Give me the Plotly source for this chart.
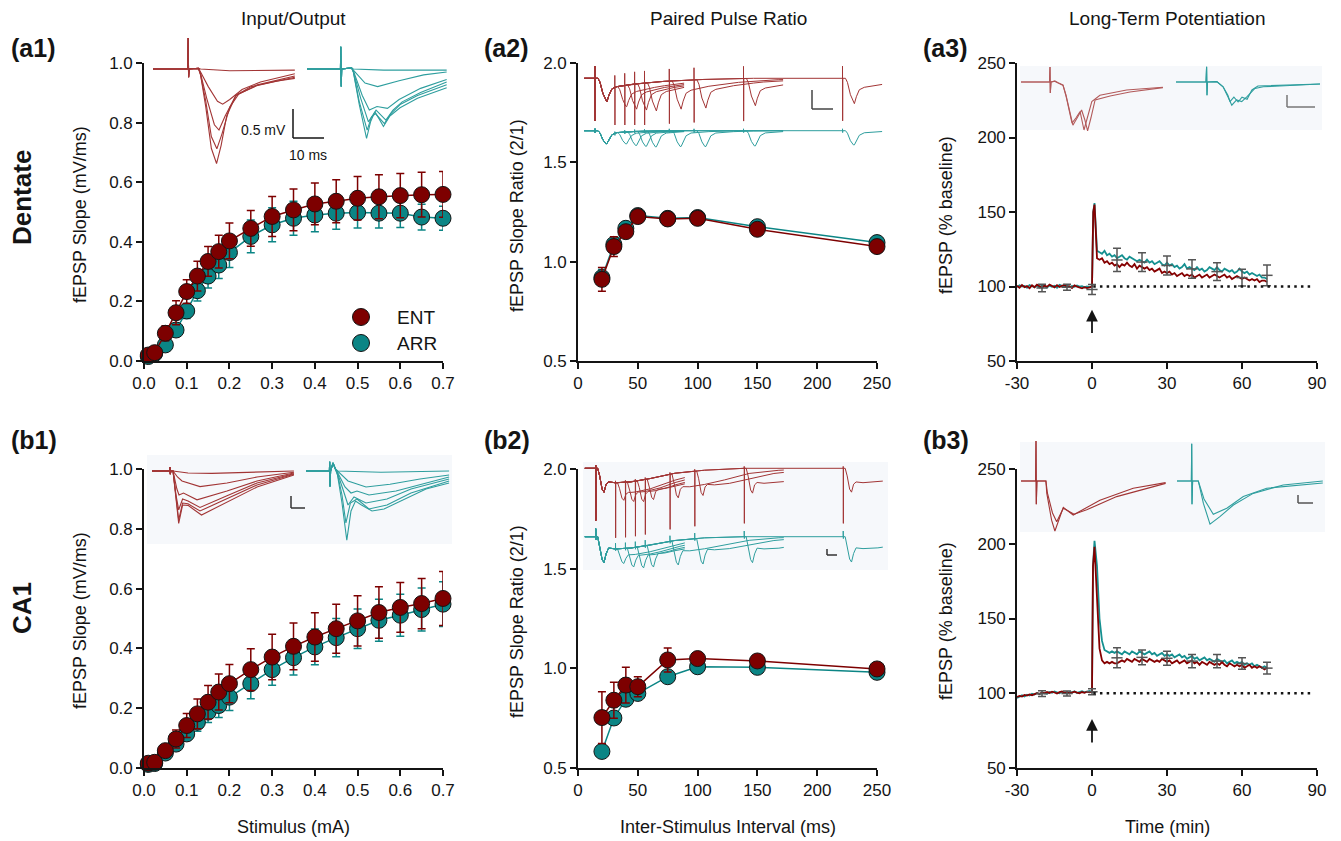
import numpy as np
import plotly.graph_objects as go

W, H = 1341, 841
OFF = 8                      # page body margin: figure starts at (8, 8)
FW, FH = W - OFF, H - OFF    # figure size so that it fits the window
FONT = "Liberation Sans, Arial, Helvetica, sans-serif"

# ------------------------------------------------------------------ data
IO_STIM = [0.01, 0.025, 0.05, 0.075, 0.1, 0.125, 0.15, 0.175, 0.2, 0.25,
           0.3, 0.35, 0.4, 0.45, 0.5, 0.55, 0.6, 0.65, 0.7]
IO_TICKS = [0.0, 0.1, 0.2, 0.3, 0.4, 0.5, 0.6, 0.7]
IO_YTICKS = [0.0, 0.2, 0.4, 0.6, 0.8, 1.0]

DG_IO_ENT = [0.020, 0.028, 0.093, 0.162, 0.233, 0.285, 0.334, 0.367, 0.403, 0.445,
             0.485, 0.507, 0.527, 0.536, 0.546, 0.551, 0.555, 0.558, 0.559]
DG_IO_ENT_ERR = [0.005, 0.008, 0.025, 0.040, 0.040, 0.050, 0.050, 0.055, 0.060, 0.060,
                 0.067, 0.070, 0.070, 0.072, 0.073, 0.074, 0.074, 0.075, 0.077]
DG_IO_ARR = [0.015, 0.025, 0.054, 0.104, 0.168, 0.236, 0.285, 0.322, 0.364, 0.418,
             0.457, 0.479, 0.490, 0.496, 0.498, 0.496, 0.496, 0.483, 0.479]
DG_IO_ARR_ERR = [0.005, 0.008, 0.015, 0.020, 0.025, 0.035, 0.040, 0.045, 0.050, 0.055,
                 0.057, 0.057, 0.056, 0.054, 0.052, 0.050, 0.048, 0.043, 0.040]

CA1_IO_ENT = [0.016, 0.019, 0.058, 0.097, 0.142, 0.181, 0.220, 0.254, 0.282, 0.329,
              0.371, 0.407, 0.438, 0.466, 0.492, 0.520, 0.537, 0.550, 0.567]
CA1_IO_ENT_ERR = [0.005, 0.008, 0.020, 0.030, 0.040, 0.050, 0.056, 0.060, 0.064, 0.070,
                  0.076, 0.078, 0.081, 0.082, 0.084, 0.086, 0.083, 0.084, 0.090]
CA1_IO_ARR = [0.012, 0.015, 0.050, 0.080, 0.114, 0.153, 0.187, 0.209, 0.237, 0.282,
              0.329, 0.369, 0.405, 0.436, 0.466, 0.494, 0.511, 0.530, 0.548]
CA1_IO_ARR_ERR = [0.004, 0.006, 0.012, 0.018, 0.022, 0.030, 0.035, 0.040, 0.045, 0.050,
                  0.052, 0.058, 0.060, 0.064, 0.066, 0.070, 0.070, 0.072, 0.075]

ISI = [20, 30, 40, 50, 75, 100, 150, 250]
ISI_TICKS = [0, 50, 100, 150, 200, 250]
PPR_YTICKS = [0.5, 1.0, 1.5, 2.0]
DG_PPR_ENT = [0.911, 1.076, 1.151, 1.227, 1.215, 1.218, 1.163, 1.076]
DG_PPR_ENT_ERR = [0.060, 0.050, 0.025, 0.020, 0.015, 0.015, 0.015, 0.015]
DG_PPR_ARR = [0.920, 1.087, 1.168, 1.232, 1.218, 1.222, 1.176, 1.096]
DG_PPR_ARR_ERR = [0.040, 0.030, 0.020, 0.015, 0.015, 0.015, 0.015, 0.015]
CA1_PPR_ENT = [0.753, 0.840, 0.916, 0.908, 1.042, 1.049, 1.037, 0.997]
CA1_PPR_ENT_ERR = [0.130, 0.090, 0.090, 0.050, 0.060, 0.020, 0.015, 0.015]
CA1_PPR_ARR = [0.583, 0.751, 0.845, 0.874, 0.958, 1.008, 1.005, 0.980]
CA1_PPR_ARR_ERR = [0.030, 0.030, 0.030, 0.025, 0.020, 0.020, 0.015, 0.015]

LTP_TICKS = [-30, 0, 30, 60, 90]
LTP_TICKTEXT = ["-30", "0", "30", "60", "90"]
LTP_YTICKS = [50, 100, 150, 200, 250]
BASELINE_PCT = 100
LTP_BASE_T = list(range(-30, 0))

DG_LTP_ENT_BASE = [100.5, 99.2, 101.0, 99.6, 100.3, 98.9, 100.8, 99.5, 101.2, 100.0,
                   99.1, 100.6, 99.8, 101.3, 100.2, 99.4, 100.9, 99.7, 100.4, 101.1,
                   99.6, 100.2, 99.0, 100.7, 99.9, 99.3, 98.8, 99.5, 98.9, 99.4]
DG_LTP_ARR_BASE = [99.6, 100.8, 99.9, 100.4, 99.1, 101.0, 100.2, 99.5, 100.7, 99.3,
                   100.9, 100.1, 99.4, 100.6, 99.8, 100.5, 99.2, 101.1, 100.3, 99.7,
                   100.9, 99.5, 100.4, 99.8, 100.6, 99.9, 100.2, 99.4, 100.1, 99.6]
DG_LTP_SPIKE_T = [0, 0.5, 1, 1.5, 2]
DG_LTP_ENT_SPIKE = [100, 150, 155, 138, 119]
DG_LTP_ARR_SPIKE = [100, 150, 156, 140, 124]
DG_LTP_POST_T = list(range(3, 71))
DG_LTP_ENT_POST = [118, 119, 116, 117, 115, 116, 114, 115, 113, 115,
                   114, 116, 114, 113, 115, 112, 114, 113, 112, 113,
                   111, 112, 110, 111, 112, 109, 110, 109, 110, 108,
                   109, 107, 108, 109, 107, 108, 107, 108, 106, 107,
                   108, 106, 107, 108, 106, 107, 108, 107, 106, 107,
                   108, 106, 107, 105, 106, 107, 106, 105, 106, 105,
                   104, 105, 104, 105, 103, 104, 104, 103]
DG_LTP_ARR_POST = [123, 122, 124, 121, 122, 120, 121, 119, 120, 121,
                   119, 118, 120, 119, 118, 117, 118, 117, 116, 118,
                   116, 117, 115, 116, 117, 115, 114, 116, 114, 115,
                   113, 114, 112, 113, 115, 112, 113, 112, 111, 113,
                   111, 112, 110, 111, 113, 112, 111, 113, 111, 110,
                   112, 111, 110, 111, 109, 110, 112, 110, 109, 110,
                   108, 109, 108, 107, 108, 106, 106, 105]

CA1_LTP_ENT_BASE = [97.5, 98.2, 97.8, 98.9, 98.4, 99.2, 98.7, 99.5, 100.1, 99.6,
                    100.4, 99.9, 100.8, 100.2, 101.0, 100.5, 99.8, 100.7, 101.2, 100.3,
                    100.9, 99.9, 100.6, 101.1, 100.4, 100.0, 100.8, 100.3, 101.0, 100.6]
CA1_LTP_ARR_BASE = [96.8, 98.0, 98.6, 97.9, 99.0, 98.5, 99.6, 99.1, 100.2, 99.4,
                    100.5, 100.1, 99.7, 100.9, 100.3, 101.2, 100.6, 100.0, 101.0, 100.4,
                    99.8, 100.9, 100.5, 101.3, 100.2, 100.8, 101.4, 100.6, 101.0, 101.5]
CA1_LTP_SPIKE_T = [0, 0.4, 1, 2, 3, 4, 5]
CA1_LTP_ENT_SPIKE = [101, 185, 198, 165, 130, 122, 120]
CA1_LTP_ARR_SPIKE = [101, 185, 202, 185, 150, 135, 129]
CA1_LTP_POST_T = list(range(6, 71))
CA1_LTP_ENT_POST = [121, 120, 121, 120, 120, 121, 122, 121, 123, 122,
                    121, 123, 122, 121, 123, 122, 121, 123, 122, 121,
                    122, 121, 123, 122, 121, 122, 120, 121, 122, 120,
                    121, 122, 120, 121, 122, 120, 121, 119, 121, 120,
                    119, 121, 120, 119, 120, 119, 121, 119, 118, 120,
                    119, 118, 119, 118, 119, 117, 118, 119, 117, 118,
                    117, 118, 117, 116, 117]
CA1_LTP_ARR_POST = [128, 127, 128, 127, 128, 127, 126, 128, 127, 126,
                    128, 127, 126, 128, 127, 126, 127, 128, 126, 127,
                    125, 126, 127, 125, 126, 125, 126, 124, 125, 126,
                    124, 125, 123, 124, 125, 123, 124, 122, 123, 124,
                    122, 123, 122, 121, 123, 122, 121, 122, 120, 121,
                    122, 120, 121, 120, 121, 119, 120, 119, 120, 118,
                    119, 118, 117, 118, 117]

LTP_ERR_T = [-20, -10, 0, 10, 20, 30, 40, 50, 60, 70]
DG_LTP_MEAN = [99.0, 99.5, 98.0, 117.8, 116.4, 114.1, 111.8, 110.0, 106.0, 107.5]
DG_LTP_SEM = [2.5, 2.0, 3.3, 7.8, 6.3, 6.3, 6.2, 6.0, 5.6, 7.0]
CA1_LTP_MEAN = [99.7, 99.8, 101.0, 123.7, 124.0, 123.4, 121.5, 121.5, 119.9, 116.8]
CA1_LTP_SEM = [1.9, 1.7, 2.0, 6.7, 5.0, 4.7, 4.5, 4.5, 3.9, 3.9]

# ---- example sweeps (ms, mV)
A1_ENT_ART = [(0, 0), (11.3, 0), (11.45, 0.53), (11.6, -0.14), (11.8, 0), (14.8, 0.01)]
A1_ENT_SWEEPS = [
    [(15.5, -0.10), (17.2, -0.65), (19.0, -1.35), (20.7, -1.61), (22.2, -1.30), (24, -0.80), (27, -0.45), (32, -0.30), (40, -0.21), (46.2, -0.16)],
    [(15.5, -0.10), (17.2, -0.55), (19.0, -1.15), (20.8, -1.36), (22.5, -1.10), (25, -0.65), (28, -0.42), (34, -0.28), (46.2, -0.14)],
    [(15.5, -0.08), (17.5, -0.50), (20.0, -0.95), (21.5, -1.04), (23.5, -0.80), (27, -0.45), (34, -0.27), (46.2, -0.12)],
    [(15.5, -0.05), (18.0, -0.30), (21.0, -0.55), (22.7, -0.60), (25, -0.52), (29, -0.35), (35, -0.22), (46.2, -0.08)],
    [(15.5, 0.0), (25, -0.03), (46.2, -0.02)],
]
A1_ARR_ART = [(0, 0), (10.9, 0), (11.0, 0.38), (11.15, -0.30), (11.3, 0), (14.5, 0.02)]
A1_ARR_SWEEPS = [
    [(15.1, -0.05), (17, -0.6), (19.4, -1.18), (20.7, -0.9), (22.1, -0.73), (23.5, -0.85), (24.9, -0.98), (27, -0.8), (30.3, -0.66), (36, -0.5), (41, -0.4), (45.5, -0.32)],
    [(15.1, -0.05), (17, -0.55), (19.6, -1.04), (21, -0.82), (22.3, -0.76), (25.2, -0.93), (27.5, -0.75), (30.5, -0.6), (36, -0.45), (45.5, -0.27)],
    [(15.1, -0.04), (17.5, -0.5), (20, -0.9), (22.5, -0.7), (25.7, -0.87), (28, -0.7), (31, -0.56), (37, -0.4), (45.5, -0.22)],
    [(15.1, -0.03), (18, -0.45), (20.3, -0.7), (22.8, -0.64), (26.2, -0.67), (30, -0.52), (37, -0.33), (45.5, -0.18)],
    [(15.1, -0.02), (18.9, -0.24), (23, -0.30), (30, -0.2), (38, -0.1), (45.5, -0.05)],
    [(15.1, 0.0), (25, -0.02), (45.5, -0.02)],
]

PP_T = [0, 3, 5, 8, 11, 12, 14, 17, 22, 40, 70, 110, 160]
DG_PP_ENT_V = [0, 0, -0.10, -0.40, -0.60, -0.62, -0.45, -0.28, -0.22, -0.15, -0.08, -0.03, 0]
DG_PP_ARR_V = [0, 0, -0.06, -0.24, -0.34, -0.34, -0.24, -0.11, -0.05, -0.02, 0, 0, 0]
CA1_PP_T = [0, 2, 4, 6.5, 8.4, 10.5, 13, 20, 35, 55, 80, 110, 150]
CA1_PP_ENT_V = [0, 0, -0.20, -0.55, -0.63, -0.42, -0.36, -0.38, -0.36, -0.27, -0.13, -0.05, 0]
CA1_PP_ARR_V = [0, 0, -0.25, -0.60, -0.68, -0.45, -0.30, -0.32, -0.30, -0.22, -0.10, -0.03, 0]
PP_SWEEP_END = [90, 90, 90, 90, 190, 190, 190, 290]

A3_ENT_SWEEPS = [
    [(0, 0), (9.5, 0), (9.67, 0.375), (9.77, -0.275), (10, 0), (11.3, 0.02), (12.3, -0.02), (14, -0.08), (15, -0.35), (16.3, -0.82), (17, -1.03), (18.3, -0.9), (19.7, -0.74), (21, -1.2), (22.3, -0.82), (23.6, -0.49), (26.3, -0.33), (35.2, -0.2), (47.3, -0.13)],
    [(0, 0), (9.5, 0), (9.67, 0.375), (9.77, -0.275), (10, 0), (11.3, 0.02), (12.3, -0.02), (14, -0.08), (15, -0.33), (16.3, -0.78), (17.3, -1.08), (18.7, -0.9), (20.2, -0.7), (21.3, -0.95), (22.2, -1.22), (23.3, -0.9), (24.7, -0.45), (29.7, -0.35), (36.3, -0.25), (47.3, -0.14)],
]
A3_ARR_SWEEPS = [
    [(0, 0), (10, 0), (10.2, 0.38), (10.33, -0.33), (10.5, 0), (13.6, 0.01), (15.7, -0.12), (17.3, -0.37), (18.6, -0.58), (20.2, -0.45), (21.9, -0.49), (23.6, -0.37), (24.7, -0.28), (26.3, -0.16), (29.1, -0.12), (48, -0.05)],
    [(0, 0), (10, 0), (10.2, 0.38), (10.33, -0.33), (10.5, 0), (13.6, 0.01), (15.7, -0.12), (17.3, -0.33), (18, -0.49), (19.3, -0.38), (20.7, -0.5), (22, -0.38), (23.7, -0.43), (25.3, -0.2), (27.3, -0.1), (48, -0.05)],
]

B1_ENT_ART = [(0, 0), (5.9, 0), (6.0, 0.10), (6.1, -0.08), (6.3, 0), (7, 0)]
B1_ENT_SWEEPS = [
    [(12, -0.05), (20, -0.06), (35, -0.03), (47.3, 0)],
    [(8.5, -0.15), (10, -0.25), (16, -0.39), (25, -0.30), (35, -0.15), (47.3, -0.03)],
    [(8.3, -0.45), (9, -0.60), (10.5, -0.55), (15, -0.72), (25, -0.50), (35, -0.25), (47.3, -0.05)],
    [(8, -0.6), (8.9, -0.97), (10.2, -0.7), (12, -0.75), (16, -0.91), (25, -0.62), (35, -0.30), (47.3, -0.07)],
    [(8, -0.7), (8.9, -1.22), (10.2, -0.8), (12, -0.82), (16, -1.0), (25, -0.70), (35, -0.35), (47.3, -0.08)],
    [(8, -0.75), (8.9, -1.31), (10.2, -0.85), (12, -0.86), (16.5, -1.1), (25, -0.78), (35, -0.40), (47.3, -0.10)],
]
B1_ARR_ART = [(0, 0), (7.8, 0), (7.9, 0.23), (8.0, -0.39), (8.2, 0), (9, 0.2), (9.8, 0.05)]
B1_ARR_SWEEPS = [
    [(10.5, -0.1), (12, -0.8), (13.6, -1.73), (15, -1.0), (16.5, -0.75), (18.5, -0.85), (22, -1.0), (26, -0.95), (33, -0.7), (40, -0.45), (47.7, -0.3)],
    [(10.5, -0.08), (12, -0.6), (13.3, -1.3), (14.8, -0.8), (17, -0.7), (21, -0.95), (27, -0.85), (35, -0.55), (47.7, -0.25)],
    [(10.5, -0.05), (12.5, -0.5), (14, -0.85), (16, -0.65), (20, -0.8), (27, -0.7), (35, -0.45), (47.7, -0.2)],
    [(10.5, -0.03), (13, -0.4), (15, -0.55), (17, -0.5), (21, -0.6), (30, -0.5), (40, -0.3), (47.7, -0.15)],
    [(10.5, 0), (14, -0.25), (20, -0.4), (28, -0.33), (38, -0.2), (47.7, -0.1)],
    [(10.5, 0), (25, -0.03), (47.7, 0)],
]

B3_ENT_SWEEPS = [
    [(0, 0), (4.9, 0), (5.0, 1.0), (5.1, -0.58), (5.3, 0), (8.3, 0), (8.6, -0.31), (10.2, -0.98), (11.3, -1.25), (14.1, -0.66), (17.4, -0.85), (26.3, -0.48), (37.4, -0.18), (48.2, -0.04)],
    [(0, 0), (4.9, 0), (5.0, 1.0), (5.1, -0.58), (5.3, 0), (8.3, 0), (8.8, -0.3), (10.5, -0.8), (11.9, -1.02), (14.1, -0.68), (17.7, -0.83), (21.9, -0.72), (31.9, -0.39), (48.2, -0.06)],
]
B3_ARR_SWEEPS = [
    [(0, 0), (4.8, 0), (4.9, 0.93), (5.0, -0.58), (5.2, 0), (7.1, 0), (8.8, -0.56), (11, -1.08), (14.3, -0.89), (18.8, -0.6), (25.4, -0.31), (35.4, -0.1), (48.6, 0)],
    [(0, 0), (4.8, 0), (4.9, 0.93), (5.0, -0.58), (5.2, 0), (7.1, 0), (9, -0.45), (12.1, -0.83), (16.6, -0.68), (22.1, -0.39), (29.9, -0.18), (48.6, -0.05)],
]

# ------------------------------------------------------------------ style
ENT = "#7d0000"
ARR = "#0b8585"
ENT_TR = "#a23535"
ARR_TR = "#2e9e9e"
INK = "#141414"

fig = go.Figure()
layout = dict(width=FW, height=FH, margin=dict(l=0, r=0, t=0, b=0),
              paper_bgcolor="white", plot_bgcolor="rgba(0,0,0,0)",
              showlegend=False, font=dict(family=FONT, color=INK, size=17))
shapes, annotations = [], []


def fx(px):
    return (px - OFF) / FW


def fy(py):
    return 1 - (py - OFF) / FH


def dom_x(a, b):
    return [fx(a), fx(b)]


def dom_y(top, bottom):
    return [fy(bottom), fy(top)]


def sfx(i):
    return "" if i == 1 else str(i)


AX = dict(showline=True, linecolor=INK, linewidth=1.6, ticks="outside", ticklen=6,
          tickwidth=1.6, tickcolor=INK, showgrid=False, zeroline=False,
          tickfont=dict(size=17, family=FONT, color=INK), fixedrange=True, automargin=False)


def main_axes(i, xpx, ypx, xr, yr, xt, xtt, yt, ytt):
    layout["xaxis" + sfx(i)] = dict(domain=dom_x(*xpx), range=xr, anchor="y" + sfx(i),
                                    tickvals=xt, ticktext=xtt, **AX)
    layout["yaxis" + sfx(i)] = dict(domain=dom_y(*ypx), range=yr, anchor="x" + sfx(i),
                                    tickvals=yt, ticktext=ytt, **AX)


def inset_axes(i, left, right, top, bottom, t_left, pxms, base, pxmv):
    layout["xaxis%d" % i] = dict(domain=dom_x(left, right), visible=False, fixedrange=True,
                                 range=[t_left, t_left + (right - left) / pxms], anchor="y%d" % i)
    layout["yaxis%d" % i] = dict(domain=dom_y(top, bottom), visible=False, fixedrange=True,
                                 range=[-(bottom - base) / pxmv, (base - top) / pxmv], anchor="x%d" % i)


def sweep(i, pts, color, width=1.1):
    fig.add_trace(go.Scatter(x=[p[0] for p in pts], y=[p[1] for p in pts], mode="lines",
                             line=dict(color=color, width=width), hoverinfo="skip",
                             xaxis="x%d" % i, yaxis="y%d" % i))


def text(px, py, s, size, bold=False, xanchor="center", angle=0):
    annotations.append(dict(x=fx(px), y=fy(py), xref="paper", yref="paper",
                            text=("<b>%s</b>" % s) if bold else s, showarrow=False,
                            font=dict(size=size, family=FONT, color=INK),
                            xanchor=xanchor, yanchor="middle", textangle=angle))


def pline(x0, y0, x1, y1, color=INK, width=1.5):
    shapes.append(dict(type="line", xref="paper", yref="paper", x0=fx(x0), x1=fx(x1),
                       y0=fy(y0), y1=fy(y1), line=dict(color=color, width=width)))


def prect(x0, y0, x1, y1, fill="#f6f8fb"):
    shapes.append(dict(type="rect", xref="paper", yref="paper", x0=fx(x0), x1=fx(x1),
                       y0=fy(y1), y1=fy(y0), line=dict(width=0), fillcolor=fill,
                       layer="below"))


def mean_panel(i, x, ent, ent_err, arr, arr_err):
    for vals, err, col in [(arr, arr_err, ARR), (ent, ent_err, ENT)]:
        fig.add_trace(go.Scatter(
            x=x, y=vals, mode="lines+markers", cliponaxis=False,
            line=dict(color=col, width=1.5),
            marker=dict(size=16, color=col, line=dict(color=INK, width=1)),
            error_y=dict(type="data", array=err, color=col, thickness=1.5, width=4),
            xaxis="x" + sfx(i), yaxis="y" + sfx(i)))


def ltp_panel(i, base_ent, base_arr, sp_t, sp_ent, sp_arr, post_t, post_ent, post_arr,
              mean, sem, arrow_tip, arrow_tail):
    t = LTP_BASE_T + sp_t + post_t
    for vals, col in [(base_arr + sp_arr + post_arr, "#159090"), (base_ent + sp_ent + post_ent, "#850000")]:
        fig.add_trace(go.Scatter(x=t, y=vals, mode="lines", line=dict(color=col, width=1.8),
                                 xaxis="x" + sfx(i), yaxis="y" + sfx(i)))
    fig.add_trace(go.Scatter(
        x=LTP_ERR_T, y=mean, mode="markers",
        marker=dict(symbol="line-ew-open", size=8, color="#555", line=dict(color="#555", width=1.5)),
        error_y=dict(type="data", array=sem, color="#555", thickness=1.5, width=4),
        xaxis="x" + sfx(i), yaxis="y" + sfx(i)))
    shapes.append(dict(type="line", xref="x" + sfx(i), yref="y" + sfx(i), x0=0.5, x1=88,
                       y0=BASELINE_PCT, y1=BASELINE_PCT,
                       line=dict(color=INK, width=2.5, dash="2.5px,4.2px")))
    annotations.append(dict(x=0, y=arrow_tip, ax=0, ay=arrow_tail, xref="x" + sfx(i), yref="y" + sfx(i),
                            axref="x" + sfx(i), ayref="y" + sfx(i), showarrow=True, text="",
                            arrowhead=2, arrowsize=1.3, arrowwidth=1.8, arrowcolor=INK))


def pp_sweep(tmpl_t, tmpl_v, interval, ratio, end, pre, art1, art2):
    T = np.array(tmpl_t, float)
    V = np.array(tmpl_v, float)

    def f(t):
        return float(np.interp(t, T, V, left=0.0, right=0.0))

    pts = [(pre, 0.0), (-0.01, 0.0), (0.0, art1[0]), (0.15, art1[1]), (0.3, 0.0)]
    pts += [(t, f(t)) for t in T if 0.3 < t < interval]
    b = f(interval)
    pts += [(interval, b), (interval + 0.01, b + art2[0]), (interval + 0.15, b + art2[1]), (interval + 0.3, b)]
    ts = sorted(set([interval + t for t in T if t > 0.3] + [t for t in T if t > interval + 0.3] + [end]))
    pts += [(s, f(s) + ratio * f(s - interval)) for s in ts if s <= end]
    return pts


# ------------------------------------------------------------------ main axes
TOP, BOT = (63, 361), (469, 768)
C1, C2, C3 = (144, 443), (578, 877), (1017, 1317)
io_tt = ["%.1f" % v for v in IO_TICKS]
io_ytt = ["%.1f" % v for v in IO_YTICKS]
pp_tt = [str(v) for v in ISI_TICKS]
pp_ytt = ["%.1f" % v for v in PPR_YTICKS]
ltp_ytt = [str(v) for v in LTP_YTICKS]
main_axes(1, C1, TOP, [0, 0.7], [0, 1.0], IO_TICKS, io_tt, IO_YTICKS, io_ytt)
main_axes(2, C2, TOP, [0, 250], [0.5, 2.0], ISI_TICKS, pp_tt, PPR_YTICKS, pp_ytt)
main_axes(3, C3, TOP, [-30, 90], [50, 250], LTP_TICKS, LTP_TICKTEXT, LTP_YTICKS, ltp_ytt)
main_axes(4, C1, BOT, [0, 0.7], [0, 1.0], IO_TICKS, io_tt, IO_YTICKS, io_ytt)
main_axes(5, C2, BOT, [0, 250], [0.5, 2.0], ISI_TICKS, pp_tt, PPR_YTICKS, pp_ytt)
main_axes(6, C3, BOT, [-30, 90], [50, 250], LTP_TICKS, LTP_TICKTEXT, LTP_YTICKS, ltp_ytt)

# inset backgrounds
prect(1020, 66, 1322, 130)
prect(147, 455, 452, 544)
prect(583, 462, 888, 570)
prect(1020, 442, 1325, 532)

# ------------------------------------------------------------------ inset sweeps
# a1
inset_axes(7, 153, 296, 35, 170, 0, 3.07, 69, 58.7)
inset_axes(8, 307, 448, 35, 170, 0, 3.07, 69, 58.7)
for sw in A1_ENT_SWEEPS:
    sweep(7, A1_ENT_ART + sw, ENT_TR)
for sw in A1_ARR_SWEEPS:
    sweep(8, A1_ARR_ART + sw, ARR_TR)
# a2
inset_axes(9, 584, 885, 60, 125, (584 - 595) / 0.99, 0.99, 78.3, 38)
inset_axes(10, 584, 885, 118, 150, (584 - 595) / 0.99, 0.99, 130.7, 38)
for k, iv in enumerate(ISI):
    sweep(9, pp_sweep(PP_T, DG_PP_ENT_V, iv, DG_PPR_ENT[k], PP_SWEEP_END[k], -11, (0.32, -1.12), (0.32, -1.12)), ENT_TR, 1.0)
    sweep(10, pp_sweep(PP_T, DG_PP_ARR_V, iv, DG_PPR_ARR[k], PP_SWEEP_END[k], -11, (0.05, -0.05), (0.05, -0.05)), ARR_TR, 1.0)
# a3
inset_axes(11, 1021, 1170, 60, 135, 0, 3.0, 82, 40)
inset_axes(12, 1176, 1325, 60, 135, 0, 3.0, 82, 40)
for sw in A3_ENT_SWEEPS:
    sweep(11, sw, "#b25a5a")
for sw in A3_ARR_SWEEPS:
    sweep(12, sw, ARR_TR)
# b1
inset_axes(13, 152, 300, 455, 545, 0, 3.0, 471, 40)
inset_axes(14, 306, 452, 455, 545, 0, 3.0, 471, 40)
for sw in B1_ENT_SWEEPS:
    sweep(13, B1_ENT_ART + sw, ENT_TR)
for sw in B1_ARR_SWEEPS:
    sweep(14, B1_ARR_ART + sw, ARR_TR)
# b2
inset_axes(15, 584, 885, 455, 540, (584 - 595.7) / 0.99, 0.99, 468.3, 38)
inset_axes(16, 584, 885, 520, 575, (584 - 595.7) / 0.99, 0.99, 536.7, 38)
for k, iv in enumerate(ISI):
    sweep(15, pp_sweep(CA1_PP_T, CA1_PP_ENT_V, iv, CA1_PPR_ENT[k], PP_SWEEP_END[k], -11, (0.08, -1.37), (0.05, -1.45)), ENT_TR, 1.0)
    sweep(16, pp_sweep(CA1_PP_T, CA1_PP_ARR_V, iv, CA1_PPR_ARR[k], PP_SWEEP_END[k], -11, (0.21, -0.08), (0.15, -0.05)), ARR_TR, 1.0)
# b3
inset_axes(17, 1021, 1170, 435, 540, 0, 3.0, 481, 40)
inset_axes(18, 1177, 1326, 435, 540, 0, 3.0, 481, 40)
for sw in B3_ENT_SWEEPS:
    sweep(17, sw, ENT_TR)
for sw in B3_ARR_SWEEPS:
    sweep(18, sw, ARR_TR)

# ------------------------------------------------------------------ data panels
mean_panel(1, IO_STIM, DG_IO_ENT, DG_IO_ENT_ERR, DG_IO_ARR, DG_IO_ARR_ERR)
mean_panel(2, ISI, DG_PPR_ENT, DG_PPR_ENT_ERR, DG_PPR_ARR, DG_PPR_ARR_ERR)
ltp_panel(3, DG_LTP_ENT_BASE, DG_LTP_ARR_BASE, DG_LTP_SPIKE_T, DG_LTP_ENT_SPIKE, DG_LTP_ARR_SPIKE,
          DG_LTP_POST_T, DG_LTP_ENT_POST, DG_LTP_ARR_POST, DG_LTP_MEAN, DG_LTP_SEM, 84.4, 67.8)
mean_panel(4, IO_STIM, CA1_IO_ENT, CA1_IO_ENT_ERR, CA1_IO_ARR, CA1_IO_ARR_ERR)
mean_panel(5, ISI, CA1_PPR_ENT, CA1_PPR_ENT_ERR, CA1_PPR_ARR, CA1_PPR_ARR_ERR)
ltp_panel(6, CA1_LTP_ENT_BASE, CA1_LTP_ARR_BASE, CA1_LTP_SPIKE_T, CA1_LTP_ENT_SPIKE, CA1_LTP_ARR_SPIKE,
          CA1_LTP_POST_T, CA1_LTP_ENT_POST, CA1_LTP_ARR_POST, CA1_LTP_MEAN, CA1_LTP_SEM, 82.7, 66.0)

# ------------------------------------------------------------------ scale bars
pline(293, 109, 293, 138, INK)
pline(293, 138, 324, 138, INK)
text(288, 130, "0.5 mV", 14, xanchor="right")
text(308, 155, "10 ms", 14)
pline(812, 90, 812, 109, "#444")
pline(812, 109, 833, 109, "#444")
pline(1287, 95, 1287, 107, "#777")
pline(1287, 107, 1315, 107, "#777")
pline(291, 496, 291, 508, "#333")
pline(291, 508, 305, 508, "#333")
pline(827, 549, 827, 555, "#333")
pline(827, 555, 837, 555, "#333")
pline(1298, 495, 1298, 503, "#555")
pline(1298, 503, 1313, 503, "#555")

# ------------------------------------------------------------------ legend (a1)
for cy, col, lab in [(317, ENT, "ENT"), (343, ARR, "ARR")]:
    shapes.append(dict(type="circle", xref="paper", yref="paper",
                       x0=fx(361 - 8.5), x1=fx(361 + 8.5),
                       y0=fy(cy + 8.5), y1=fy(cy - 8.5),
                       fillcolor=col, line=dict(color=INK, width=1)))
    text(395, cy, lab, 19, xanchor="left")

# ------------------------------------------------------------------ texts
text(293, 18, "Input/Output", 19)
text(728, 18, "Paired Pulse Ratio", 19)
text(1167, 18, "Long-Term Potentiation", 19)
for px, py, s in [(9, 48, "(a1)"), (482, 48, "(a2)"), (921, 48, "(a3)"),
                  (9, 440, "(b1)"), (482, 440, "(b2)"), (921, 440, "(b3)")]:
    text(px, py, s, 25, bold=True, xanchor="left")
text(22, 198, "Dentate", 26, bold=True, angle=-90)
text(22, 608, "CA1", 26, bold=True, angle=-90)
for py in (215, 621):
    text(80, py, "fEPSP Slope (mV/ms)", 18, angle=-90)
    text(517, py, "fEPSP Slope Ratio (2/1)", 18, angle=-90)
    text(946, py, "fEPSP (% baseline)", 18, angle=-90)
text(293, 827, "Stimulus (mA)", 18)
text(728, 827, "Inter-Stimulus Interval (ms)", 18)
text(1167, 827, "Time (min)", 18)

layout["shapes"] = shapes
layout["annotations"] = annotations
fig.update_layout(**layout)
fig.write_html("out.html")
